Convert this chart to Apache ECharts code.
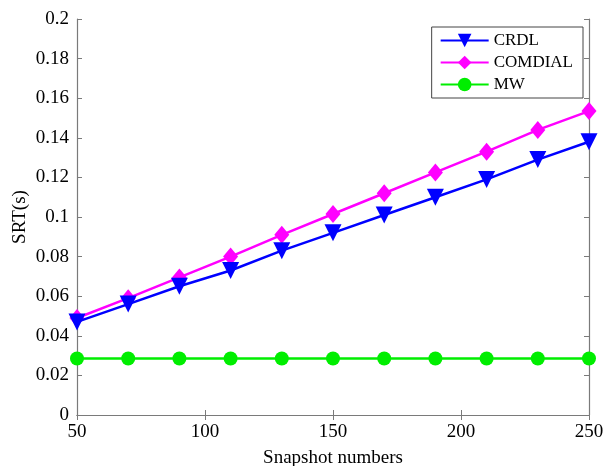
<!DOCTYPE html>
<html>
<head>
<meta charset="utf-8">
<script src="https://cdn.jsdelivr.net/npm/echarts@6/dist/echarts.min.js"></script>
<style>
	html, body { margin: 0; padding: 0; background: #fff; }
	#chart { width: 604px; height: 466px; }
</style>
</head>
<body>
<div id="chart"></div>
<script>
var snapshots = [50, 70, 90, 110, 130, 150, 170, 190, 210, 230, 250];
var crdl = [0.047, 0.056, 0.065, 0.073, 0.083, 0.092, 0.101, 0.110, 0.119, 0.129, 0.138];
var comdial = [0.049, 0.059, 0.0695, 0.080, 0.091, 0.1015, 0.112, 0.1225, 0.133, 0.144, 0.1535];
var mw = [0.0285, 0.0285, 0.0285, 0.0285, 0.0285, 0.0285, 0.0285, 0.0285, 0.0285, 0.0285, 0.0285];

function pairs(ys) {
	return snapshots.map(function(x, i) { return [x, ys[i]]; });
}

(function() {
	var myChart = echarts.init(document.getElementById('chart'));
	var font = 'Liberation Serif';
	var axisGray = '#7a7a7a';

	var boxAxis = {
		axisLine: { show: true, lineStyle: { color: axisGray, width: 1.2 } },
		axisTick: { show: true, inside: true, length: 5, lineStyle: { color: axisGray, width: 1 } },
		splitLine: { show: false }
	};

	option = {
		animation: false,
		backgroundColor: '#fff',
		grid: { left: 77, right: 15, top: 19, bottom: 51, outerBoundsMode: 'none', containLabel: false },
		legend: {
			orient: 'vertical',
			right: 21,
			top: 27,
			padding: [5, 10, 5, 8],
			itemGap: 5,
			itemWidth: 48,
			itemHeight: 17,
			borderColor: '#444',
			borderWidth: 1,
			backgroundColor: '#fff',
			textStyle: { fontFamily: font, fontSize: 17, color: '#000' },
			data: ['CRDL', 'COMDIAL', 'MW']
		},
		xAxis: [Object.assign({
			type: 'value',
			min: 50,
			max: 250,
			interval: 50,
			name: 'Snapshot numbers',
			nameLocation: 'middle',
			nameGap: 34,
			nameTextStyle: { fontFamily: font, fontSize: 19, color: '#000' },
			axisLabel: { fontFamily: font, fontSize: 19, color: '#000', margin: 8 }
		}, boxAxis), Object.assign({
			type: 'value',
			position: 'top',
			min: 50,
			max: 250,
			interval: 50,
			axisLabel: { show: false }
		}, boxAxis)],
		yAxis: [Object.assign({
			type: 'value',
			min: 0,
			max: 0.2,
			interval: 0.02,
			name: 'SRT(s)',
			nameLocation: 'middle',
			nameGap: 47,
			nameMoveOverlap: false,
			nameTextStyle: { fontFamily: font, fontSize: 19, color: '#000' },
			axisLabel: { fontFamily: font, fontSize: 19, color: '#000', margin: 8 }
		}, boxAxis), Object.assign({
			type: 'value',
			position: 'right',
			min: 0,
			max: 0.2,
			interval: 0.02,
			axisLabel: { show: false }
		}, boxAxis)],
		series: [{
				name: 'CRDL',
				type: 'line',
				data: pairs(crdl),
				color: '#0000ff',
				symbol: 'triangle',
				symbolRotate: 180,
				symbolSize: 17,
				lineStyle: { width: 2.5 },
				z: 3
			},
			{
				name: 'COMDIAL',
				type: 'line',
				data: pairs(comdial),
				color: '#ff00ff',
				symbol: 'diamond',
				symbolSize: [15, 18],
				lineStyle: { width: 2.5 },
				z: 2
			},
			{
				name: 'MW',
				type: 'line',
				data: pairs(mw),
				color: '#00ee00',
				symbol: 'circle',
				symbolSize: 14,
				lineStyle: { width: 2.5 },
				z: 2
			}
		]
	};

	myChart.setOption(option);
})();
</script>
</body>
</html>
